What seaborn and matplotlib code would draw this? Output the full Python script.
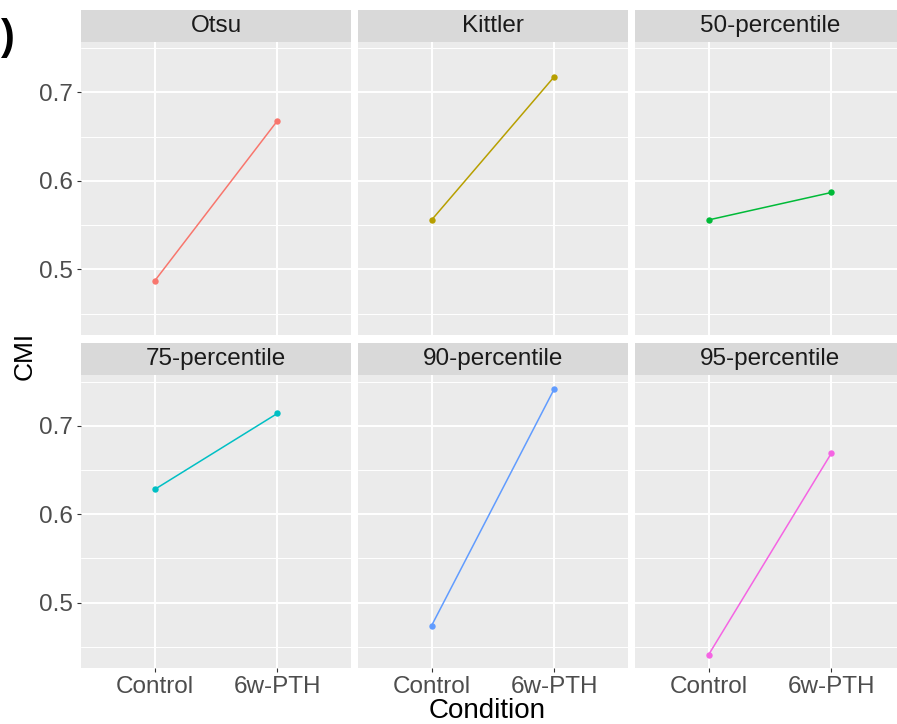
import pandas as pd
import seaborn as sns
import numpy as np
import matplotlib
matplotlib.use("Agg")
import matplotlib.pyplot as plt
from matplotlib.patches import Rectangle

## Data
methods = ["Otsu", "Kittler", "50-percentile", "75-percentile", "90-percentile", "95-percentile"]
conditions = ["Control", "6w-PTH"]
cmi_control = [0.487, 0.556, 0.556, 0.628, 0.474, 0.441]
cmi_pth = [0.668, 0.718, 0.587, 0.714, 0.742, 0.669]
colors = ["#F8766D", "#B79F00", "#00BA38", "#00BFC4", "#619CFF", "#F564E3"]

rows = []
for m, c, p in zip(methods, cmi_control, cmi_pth):
    rows.append({"Method": m, "Condition": conditions[0], "CMI": c})
    rows.append({"Method": m, "Condition": conditions[1], "CMI": p})
df = pd.DataFrame(rows)

## ggplot-like theme
sns.set_theme(style="darkgrid", rc={
    "axes.facecolor": "#EBEBEB",
    "grid.color": "white",
    "axes.edgecolor": "#EBEBEB",
})
plt.rcParams["font.family"] = ["Liberation Sans", "DejaVu Sans"]

g = sns.relplot(
    data=df, x="Condition", y="CMI",
    col="Method", col_wrap=3, hue="Method", palette=colors,
    kind="line", marker="o", markersize=4.6, markeredgewidth=0,
    linewidth=1.1, legend=False, facet_kws={"sharey": True, "sharex": True},
)
fig = g.figure
fig.set_size_inches(8.97, 7.24)
W, H = 897, 724

def fx(x):
    return x / W

def fy(y):
    return 1 - y / H

## panel positions in pixels (reference is cropped on the right)
col_x = [(81, 351), (358, 628), (635, 905)]
row_y = [(9.6, 42, 335), (343, 375.4, 668)]

lo = df["CMI"].min()
hi = df["CMI"].max()
pad = (hi - lo) * 0.05

for i, (ax, m) in enumerate(zip(g.axes.flat, methods)):
    r, c = divmod(i, 3)
    x0, x1 = col_x[c]
    s0, p0, p1 = row_y[r]
    ax.set_position([fx(x0), fy(p1), fx(x1) - fx(x0), fy(p0) - fy(p1)])
    ax.set_title("")
    ax.set_xlim(-0.6, 1.6)
    ax.set_ylim(lo - pad, hi + pad)
    ax.set_xticks([0, 1])
    ax.set_yticks([0.5, 0.6, 0.7])
    ax.set_yticks([0.45, 0.55, 0.65, 0.75], minor=True)
    ax.grid(which="major", color="white", linewidth=1.4)
    ax.grid(which="minor", color="white", linewidth=0.7)
    ax.set_xlabel("")
    ax.set_ylabel("")
    for sp in ax.spines.values():
        sp.set_visible(False)
    ax.tick_params(which="minor", length=0)
    ax.tick_params(axis="both", which="major", length=3, width=0.8, color="#333333",
                   labelsize=17.5, labelcolor="#4D4D4D", pad=3)
    if c == 0:
        ax.tick_params(axis="y", left=True, labelleft=True)
        ax.set_yticklabels(["0.5", "0.6", "0.7"])
    else:
        ax.tick_params(axis="y", left=False, labelleft=False)
    if r == 1:
        ax.tick_params(axis="x", bottom=True, labelbottom=True)
        ax.set_xticklabels(conditions)
    else:
        ax.tick_params(axis="x", bottom=False, labelbottom=False)

    ## strip
    fig.add_artist(Rectangle((fx(x0), fy(p0)), fx(x1) - fx(x0), fy(s0) - fy(p0),
                             transform=fig.transFigure, facecolor="#D9D9D9",
                             edgecolor="none", zorder=0))
    fig.text(fx((x0 + x1) / 2), fy((s0 + p0) / 2), m, ha="center", va="center",
             fontsize=17.5, color="#1A1A1A")

fig.text(fx(487), fy(711), "Condition", ha="center", va="center", fontsize=20, color="black")
fig.text(fx(25), fy(356), "CMI", ha="center", va="center", rotation=90, fontsize=19, color="black")
fig.text(fx(0.5), fy(38), ")", ha="left", va="center", fontsize=30, fontweight="bold", color="black")

fig.savefig("out.png", dpi=100, facecolor="white")
